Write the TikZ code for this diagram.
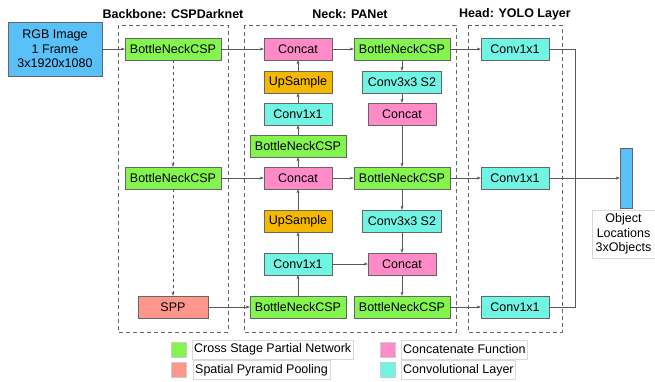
\documentclass[tikz,border=0pt]{standalone}
\usepackage{fontspec}
\setmainfont{Liberation Sans}
\usetikzlibrary{arrows.meta}

\definecolor{cspgreen}{HTML}{84F54F}
\definecolor{catpink}{HTML}{FF8AC8}
\definecolor{convcyan}{HTML}{70F5E4}
\definecolor{uporange}{HTML}{F5B800}
\definecolor{sppsalmon}{HTML}{FF968C}
\definecolor{imgblue}{HTML}{5AC0F8}

\begin{document}
\begin{tikzpicture}[x=1pt,y=-1pt,font=\fontsize{12.5}{14.5}\selectfont,
  >={Stealth[length=4pt,width=3pt]},
  blk/.style={draw=gray!80!black,minimum height=22pt,inner sep=0pt},
  csp/.style={blk,fill=cspgreen,minimum width=96pt},
  cat/.style={blk,fill=catpink,minimum width=68pt},
  conv/.style={blk,fill=convcyan,minimum width=68pt},
  convs/.style={blk,fill=convcyan,minimum width=79pt},
  upsmp/.style={blk,fill=uporange,minimum width=68pt},
  spp/.style={blk,fill=sppsalmon,minimum width=70pt},
  grp/.style={draw=gray!80!black,dashed,dash pattern=on 4pt off 3pt},
  title/.style={font=\fontsize{12.5}{14.5}\selectfont\bfseries},
  link/.style={draw=gray!70!black,->},
  swatch/.style={draw=gray!40,minimum size=15pt,inner sep=0pt},
  legtext/.style={draw=gray!30,anchor=west,minimum height=19pt,inner sep=2pt}]
  \useasboundingbox (0,0) rectangle (655,381);

  % Gruppen
  \draw[grp] (118,25) rectangle (228,332);
  \draw[grp] (244,25) rectangle (456,332);
  \draw[grp] (468,25) rectangle (562,332);
  \node[title] (tback) at (173,14) {Backbone: CSPDarknet};
  \node[title] (tneck) at (350,14) {Neck: PANet};
  \node[title] (thead) at (515,14) {Head: YOLO Layer};

  % Eingang
  \node[draw=gray!80!black,fill=imgblue,minimum width=94pt,minimum height=54pt,
    align=center,inner sep=0pt] (img) at (55,49) {RGB Image\\1 Frame\\3x1920x1080};

  % Backbone
  \node[csp] (bb1) at (173,49) {BottleNeckCSP};
  \node[csp] (bb2) at (173,178) {BottleNeckCSP};
  \node[spp] (spp) at (173,307) {SPP};

  % Neck, links
  \node[cat] (cat1) at (298,49) {Concat};
  \node[upsmp] (up1) at (298,82) {UpSample};
  \node[conv] (cv1) at (298,114) {Conv1x1};
  \node[csp] (nl1) at (298,146) {BottleNeckCSP};
  \node[cat] (cat2) at (298,178) {Concat};
  \node[upsmp] (up2) at (298,221) {UpSample};
  \node[conv] (cv2) at (298,264) {Conv1x1};
  \node[csp] (nl2) at (298,307) {BottleNeckCSP};

  % Neck, rechts
  \node[csp] (nr1) at (402,49) {BottleNeckCSP};
  \node[convs] (cs1) at (402,82) {Conv3x3 S2};
  \node[cat] (cat3) at (402,114) {Concat};
  \node[csp] (nr2) at (402,178) {BottleNeckCSP};
  \node[convs] (cs2) at (402,221) {Conv3x3 S2};
  \node[cat] (cat4) at (402,264) {Concat};
  \node[csp] (nr3) at (402,307) {BottleNeckCSP};

  % Head
  \node[conv] (hd1) at (515,49) {Conv1x1};
  \node[conv] (hd2) at (515,178) {Conv1x1};
  \node[conv] (hd3) at (515,307) {Conv1x1};

  % Ausgang
  \node[draw=gray!80!black,fill=imgblue,minimum width=12pt,minimum height=60pt,
    inner sep=0pt] (out) at (626,178) {};
  \node[draw=gray!30,minimum width=63pt,minimum height=48pt,align=center,
    inner sep=0pt] (outlbl) at (623.5,234) {Object\\Locations\\3xObjects};
  \coordinate (join) at (575,178);

  % Verbindungen
  \draw[link] (img) -- (bb1);
  \draw[link,dashed] (bb1) -- (bb2);
  \draw[link,dashed] (bb2) -- (spp);
  \draw[link] (bb1) -- (cat1);
  \draw[link] (bb2) -- (cat2);
  \draw[link] (spp) -- (nl2);
  \draw[link] (nl2) -- (cv2);
  \draw[link] (cv2) -- (up2);
  \draw[link] (up2) -- (cat2);
  \draw[link] (cat2) -- (nl1);
  \draw[link] (nl1) -- (cv1);
  \draw[link] (cv1) -- (up1);
  \draw[link] (up1) -- (cat1);
  \draw[link] (cat1) -- (nr1);
  \draw[link] (nr1) -- (cs1);
  \draw[link] (cs1) -- (cat3);
  \draw[link] (cat3) -- (nr2);
  \draw[link] (cat2) -- (nr2);
  \draw[link] (nr2) -- (cs2);
  \draw[link] (cs2) -- (cat4);
  \draw[link] (cv2) -- (cat4);
  \draw[link] (cat4) -- (nr3);
  \draw[link] (nr1) -- (hd1);
  \draw[link] (nr2) -- (hd2);
  \draw[link] (nr3) -- (hd3);
  \draw[draw=gray!70!black] (hd1.east) -| (join);
  \draw[draw=gray!70!black] (hd3.east) -| (join);
  \draw[link] (hd2) -- (out);

  % Legende
  \node[swatch,fill=cspgreen] (lg1) at (178.5,349.5) {};
  \node[swatch,fill=sppsalmon] (lg2) at (178.5,369.5) {};
  \node[swatch,fill=catpink] (lg3) at (387.5,349.5) {};
  \node[swatch,fill=convcyan] (lg4) at (387.5,369.5) {};
  \node[legtext] (lt1) at (192,349.5) {Cross Stage Partial Network};
  \node[legtext] (lt2) at (193,370) {Spatial Pyramid Pooling};
  \node[legtext] (lt3) at (401,349.5) {Concatenate Function};
  \node[legtext] (lt4) at (401,370) {Convolutional Layer};
\end{tikzpicture}
\end{document}
